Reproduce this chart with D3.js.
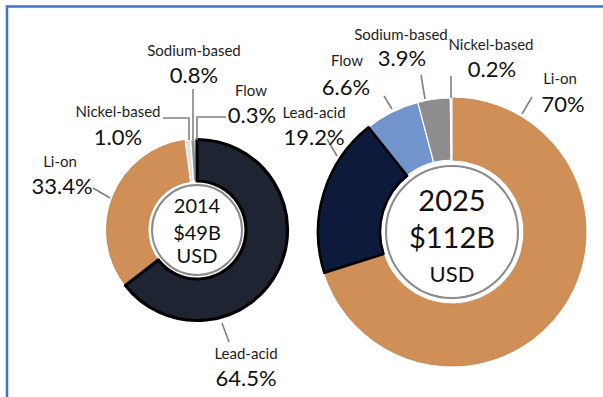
<!DOCTYPE html>
<html>
<head>
<meta charset="utf-8">
<script src="https://cdn.jsdelivr.net/npm/d3@7"></script>
<style>
  html, body { margin: 0; padding: 0; background: #fff; }
  svg { display: block; }
  .name { font-family: Lato, "Open Sans", sans-serif; font-size: 15px; fill: #1e1e1e; }
  .pct  { font-family: Lato, "Open Sans", sans-serif; font-size: 22px; fill: #111; }
  .hub  { font-family: Lato, "Open Sans", sans-serif; fill: #111; }
</style>
</head>
<body>
<svg id="chart" width="603" height="397"></svg>
<script>
// Energy storage market by technology, share of total (%)
const years = ["2014", "2025"];
const totals = ["$49B", "$112B"];
const currency = "USD";

const tech2014 = ["Lead-acid", "Li-on", "Nickel-based", "Sodium-based", "Flow"];
const share2014 = ["64.5", "33.4", "1.0", "0.8", "0.3"];

const tech2025 = ["Li-on", "Lead-acid", "Flow", "Sodium-based", "Nickel-based"];
const share2025 = ["70", "19.2", "6.6", "3.9", "0.2"];

// Fill per technology
const techColor = d3.scaleOrdinal()
  .domain(["Li-on", "Lead-acid", "Flow", "Sodium-based", "Nickel-based"])
  .range(["#cf8f57", "#1b2236", "#7094cb", "#8d8d8d", "#dde2ea"]);

// Layout of the two rings and their call-outs
const rings = [
  {
    cx: 197, cy: 230, inner: 49, outer: 90.5, hub: 45,
    leadFill: "#1f2433", leadStroke: 3.2,
    hubSizes: [20, 20, 20], hubY: [-17, 10, 33],
    callouts: {
      "Lead-acid":    { name: [246, 359], pct: [246, 386], line: [[222, 323], [229, 342]] },
      "Li-on":        { name: [60, 167],  pct: [62, 194],  line: [[110, 198], [93, 188]] },
      "Nickel-based": { name: [118, 117], pct: [118, 145], line: [[163, 118], [189, 118], [189, 140]] },
      "Sodium-based": { name: [194, 56],  pct: [194, 83],  line: [[193, 89], [193, 140]] },
      "Flow":         { name: [251, 96],  pct: [252, 123], line: [[226, 117], [197, 117], [197, 140]] }
    }
  },
  {
    cx: 452, cy: 232, inner: 72, outer: 134, hub: 66,
    leadFill: "#0e1a3c", leadStroke: 2.6,
    hubSizes: [29, 29, 22], hubY: [-21, 16, 50],
    callouts: {
      "Li-on":        { name: [560, 84],  pct: [563, 112], line: [[522, 114], [532, 97]] },
      "Nickel-based": { name: [491, 50],  pct: [492, 77],  line: [[451, 76], [451, 98]] },
      "Sodium-based": { name: [401, 40],  pct: [402, 66],  line: [[421, 75], [425, 99]] },
      "Flow":         { name: [347, 66],  pct: [346, 95],  line: [[384, 96], [392, 109]] },
      "Lead-acid":    { name: [314, 118], pct: [314, 145], line: [[327, 139], [337, 156]] }
    }
  }
];

const datasets = [
  tech2014.map((t, i) => ({ tech: t, share: share2014[i] })),
  tech2025.map((t, i) => ({ tech: t, share: share2025[i] }))
];

const svg = d3.select("#chart");

// Frame
svg.append("path")
  .attr("d", "M7,397 V6.5 H603")
  .attr("fill", "none")
  .attr("stroke", "#4472c4")
  .attr("stroke-width", 2.5);

const pie = d3.pie()
  .sort(null)
  .value(d => +d.share)
  .startAngle(0)
  .endAngle(2 * Math.PI);

rings.forEach((ring, k) => {
  const g = svg.append("g").attr("transform", `translate(${ring.cx},${ring.cy})`);
  const arc = d3.arc().innerRadius(ring.inner).outerRadius(ring.outer);
  const arcs = pie(datasets[k]);

  // lighter slices first, lead-acid last so its dark outline sits on top
  const order = arcs.slice().sort((a, b) =>
    (a.data.tech === "Lead-acid") - (b.data.tech === "Lead-acid"));

  g.selectAll("path.slice")
    .data(order)
    .join("path")
    .attr("class", "slice")
    .attr("d", arc)
    .attr("fill", d => d.data.tech === "Lead-acid" ? ring.leadFill : techColor(d.data.tech))
    .attr("stroke", d => d.data.tech === "Lead-acid" ? "#000" :
                         d.data.tech === "Li-on" ? "#c08049" : "#fff")
    .attr("stroke-width", d => d.data.tech === "Lead-acid" ? ring.leadStroke :
                               d.data.tech === "Li-on" ? 0.8 : 1.2)
    .attr("stroke-linejoin", "round");

  // centre hub
  g.append("circle")
    .attr("r", ring.hub)
    .attr("fill", "#fff")
    .attr("stroke", "#8a8a8a")
    .attr("stroke-width", 2);

  const hubLines = [years[k], totals[k], currency];
  g.selectAll("text.hub")
    .data(hubLines)
    .join("text")
    .attr("class", "hub")
    .attr("text-anchor", "middle")
    .attr("x", 0)
    .attr("y", (d, i) => ring.hubY[i])
    .attr("font-size", (d, i) => ring.hubSizes[i])
    .text(d => d);

  // call-outs
  const co = svg.append("g");
  datasets[k].forEach(d => {
    const c = ring.callouts[d.tech];
    co.append("polyline")
      .attr("points", c.line.map(p => p.join(",")).join(" "))
      .attr("fill", "none")
      .attr("stroke", "#808080")
      .attr("stroke-width", 1.6);
    co.append("text")
      .attr("class", "name")
      .attr("text-anchor", "middle")
      .attr("x", c.name[0]).attr("y", c.name[1])
      .text(d.tech);
    co.append("text")
      .attr("class", "pct")
      .attr("text-anchor", "middle")
      .attr("x", c.pct[0]).attr("y", c.pct[1])
      .text(d.share + "%");
  });
});
</script>
</body>
</html>
